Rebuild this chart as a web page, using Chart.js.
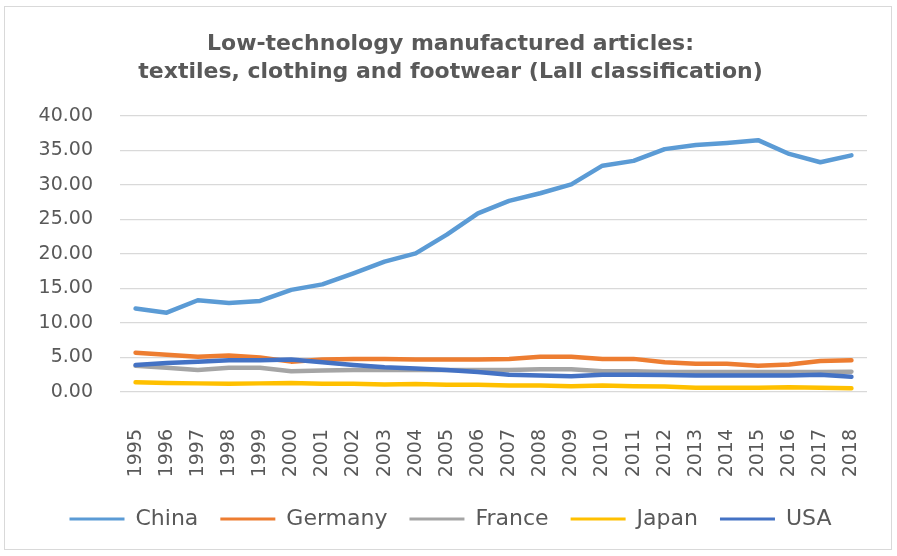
<!DOCTYPE html>
<html>
<head>
<meta charset="utf-8">
<script src="https://cdn.jsdelivr.net/npm/chart.js@4.4.1/dist/chart.umd.min.js"></script>
<style>
  body { margin: 0; background: #fff; }
  #wrap { width: 897px; height: 556px; position: relative; }
</style>
</head>
<body>
<div id="wrap"><canvas id="chart"></canvas></div>
<script>
const years = ['1995','1996','1997','1998','1999','2000','2001','2002','2003','2004','2005','2006',
               '2007','2008','2009','2010','2011','2012','2013','2014','2015','2016','2017','2018'];

const china   = [12.1, 11.5, 13.3, 12.9, 13.2, 14.8, 15.6, 17.2, 18.9, 20.1, 22.8, 25.9,
                 27.7, 28.8, 30.1, 32.8, 33.5, 35.2, 35.8, 36.1, 36.5, 34.5, 33.3, 34.3];
const germany = [5.7, 5.4, 5.1, 5.3, 5.0, 4.4, 4.7, 4.8, 4.8, 4.7, 4.7, 4.7,
                 4.8, 5.1, 5.1, 4.8, 4.8, 4.3, 4.1, 4.1, 3.8, 4.0, 4.5, 4.6];
const france  = [3.8, 3.5, 3.2, 3.5, 3.5, 3.0, 3.1, 3.2, 3.2, 3.2, 3.2, 3.2,
                 3.2, 3.3, 3.3, 3.0, 3.0, 2.9, 2.9, 2.9, 2.9, 2.9, 2.9, 2.95];
const japan   = [1.4, 1.3, 1.25, 1.2, 1.25, 1.3, 1.2, 1.2, 1.1, 1.15, 1.05, 1.05,
                 0.95, 0.95, 0.85, 0.95, 0.85, 0.8, 0.6, 0.6, 0.6, 0.7, 0.6, 0.55];
const usa     = [3.9, 4.2, 4.4, 4.6, 4.6, 4.7, 4.3, 3.9, 3.6, 3.4, 3.2, 2.9,
                 2.5, 2.4, 2.3, 2.5, 2.5, 2.45, 2.4, 2.4, 2.4, 2.4, 2.5, 2.2];

const seriesNames  = ['China', 'Germany', 'France', 'Japan', 'USA'];
const seriesColors = ['#5B9BD5', '#ED7D31', '#A5A5A5', '#FFC000', '#4472C4'];
const seriesData   = [china, germany, france, japan, usa];

const textColor = '#595959';
const fontFamily = '"DejaVu Sans", Verdana, sans-serif';

// light frame round the whole chart, like the Excel chart area
const framePlugin = {
    id: 'frame',
    beforeDraw(chart) {
        const ctx = chart.ctx;
        ctx.save();
        ctx.fillStyle = '#fff';
        ctx.fillRect(0, 0, chart.width, chart.height);
        ctx.strokeStyle = '#d9d9d9';
        ctx.lineWidth = 1;
        ctx.strokeRect(4.5, 6.5, chart.width - 10, chart.height - 13);
        ctx.restore();
    }
};

const datasets = seriesNames.map((name, i) => ({
    label: name,
    data: seriesData[i],
    borderColor: seriesColors[i],
    backgroundColor: seriesColors[i],
    borderWidth: 4.5,
    pointRadius: 0,
    tension: 0,
    borderCapStyle: 'round',
    borderJoinStyle: 'round',
    order: seriesNames.length - i  // later series on top, as in Excel
}));

new Chart(document.getElementById('chart'), {
    type: 'line',
    data: { labels: years, datasets: datasets },
    plugins: [framePlugin],
    options: {
        responsive: true,
        maintainAspectRatio: false,
        animation: false,
        layout: { padding: { left: 34, right: 30, top: 21, bottom: 16 } },
        plugins: {
            title: {
                display: true,
                text: ['Low-technology manufactured articles:',
                       'textiles, clothing and footwear (Lall classification)'],
                color: textColor,
                font: { family: fontFamily, size: 22, weight: 'bold', lineHeight: 1.25 },
                padding: { top: 10, bottom: 30 }
            },
            legend: {
                position: 'bottom',
                labels: {
                    color: textColor,
                    font: { family: fontFamily, size: 22 },
                    boxWidth: 55,
                    boxHeight: 3,
                    padding: 22,
                    sort: (a, b) => a.datasetIndex - b.datasetIndex,
                    generateLabels: chart => Chart.defaults.plugins.legend.labels
                        .generateLabels(chart).map(item => ({ ...item, lineWidth: 0 }))
                }
            },
            tooltip: { enabled: false }
        },
        scales: {
            x: {
                offset: true,
                grid: { display: false, drawTicks: false },
                border: { display: false },
                afterFit(scale) {
                    scale.height = 94;
                    scale.paddingLeft = 0;
                    scale.paddingRight = 0;
                },
                ticks: {
                    color: textColor,
                    font: { family: fontFamily, size: 19 },
                    minRotation: 90,
                    maxRotation: 90,
                    autoSkip: false,
                    padding: 37
                }
            },
            y: {
                min: 0,
                max: 40,
                grid: { color: '#d9d9d9', lineWidth: 1.3, drawTicks: false },
                border: { display: false },
                afterFit(scale) { scale.width = 86; },
                ticks: {
                    stepSize: 5,
                    color: textColor,
                    font: { family: fontFamily, size: 19 },
                    padding: 27,
                    callback: v => v.toFixed(2)
                }
            }
        }
    }
});
</script>
</body>
</html>
